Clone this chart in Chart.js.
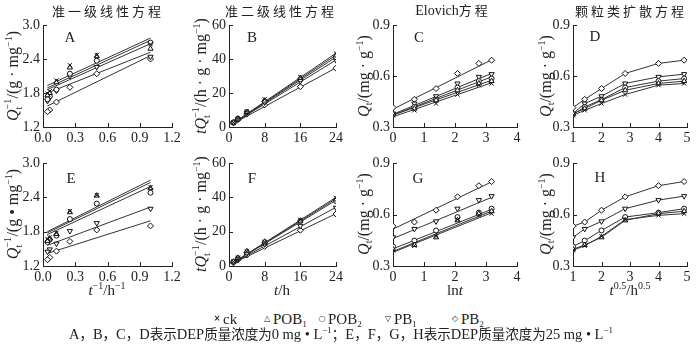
<!DOCTYPE html>
<html>
<head>
<meta charset="utf-8">
<script src="https://cdn.jsdelivr.net/npm/chart.js"></script>
<style>
body { margin: 0; background: #fff; }
#wrap { position: relative; width: 700px; height: 344px; overflow: hidden; font-family: "Liberation Serif", serif; color: #222; }
#wrap canvas { position: absolute; }
.txt { position: absolute; white-space: nowrap; line-height: 1; transform: translate(-50%, -50%); }
.title { font-family: "Noto Sans CJK SC", sans-serif; font-size: 13px; }
.title .cj { letter-spacing: 3px; }
.ytitle { font-size: 16px; transform: translate(-50%, -50%) rotate(-90deg); }
.xtitle { font-size: 15px; }
.letter { font-size: 15px; }
.sp { font-size: 10px; position: relative; top: -6px; }
.sb { font-size: 10px; position: relative; top: 3px; }
.st { display: inline-block; position: relative; width: 11px; height: 10px; font-size: 10px; }
.st .u { position: absolute; left: 0; top: -5px; }
.st .d { position: absolute; left: 0; top: 6px; }
.leg { font-size: 15px; transform: translate(0, -50%); }
.leg .sb { font-size: 9px; }
.mk { font-family: "DejaVu Sans", sans-serif; font-size: 8px; font-weight: bold; transform: translate(-50%, -50%); }
.cap { font-size: 14.5px; }
.cap .sp { font-size: 9px; }
.cap .cj { font-family: "Noto Sans CJK SC", sans-serif; font-size: 13.5px; }
</style>
</head>
<body>
<div id="wrap"></div>
<script>
// x values (h, 1/h, ln h, h^0.5) for t = 1, 2, 4, 8, 16, 24
const tInv = [1, 0.5, 0.25, 0.125, 0.0625, 0.0417];
const tHours = [1, 2, 4, 8, 16, 24];
const lnT = [0, 0.69, 1.39, 2.08, 2.77, 3.18];
const tSqrt = [1, 1.41, 2, 2.83, 4, 4.9];

const seriesNames = ['ck', 'POB1', 'POB2', 'PB1', 'PB2'];

// DEP 0 mg/L
const invQ0 = [
  [2.66, 2.47, 2.29, 2.02, 1.83, 1.79],
  [2.58, 2.45, 2.25, 1.99, 1.80, 1.76],
  [2.69, 2.37, 2.14, 1.86, 1.74, 1.69],
  [2.44, 2.26, 2.10, 1.84, 1.72, 1.66],
  [2.40, 2.14, 1.90, 1.64, 1.50, 1.47]
];
const invFit0 = [[1.93, 2.77], [1.89, 2.73], [1.86, 2.67], [1.80, 2.52], [1.57, 2.46]];

const tq0 = [
  [2.7, 5.0, 9.1, 16.3, 29.3, 43.2],
  [2.6, 4.9, 8.8, 15.5, 28.8, 42.1],
  [2.7, 4.8, 8.7, 15.0, 28.1, 41.0],
  [2.6, 4.6, 8.3, 14.4, 26.9, 39.3],
  [2.4, 4.3, 7.6, 13.0, 23.7, 34.6]
];
const tqFit0 = [[2.4, 43.4], [2.3, 42.3], [2.3, 41.1], [2.2, 39.4], [2.1, 34.8]];

const q0 = [
  [0.369, 0.398, 0.438, 0.491, 0.546, 0.556],
  [0.379, 0.408, 0.457, 0.516, 0.556, 0.570],
  [0.373, 0.418, 0.461, 0.532, 0.570, 0.585],
  [0.379, 0.438, 0.481, 0.556, 0.595, 0.611],
  [0.414, 0.463, 0.526, 0.615, 0.674, 0.693]
];
const elFit0 = [[0.36, 0.56], [0.37, 0.575], [0.37, 0.595], [0.375, 0.615], [0.405, 0.695]];

// DEP 25 mg/L
const invQ25 = [
  [2.58, 2.44, 2.16, 1.78, 1.70, 1.67],
  [2.56, 2.43, 2.14, 1.76, 1.68, 1.64],
  [2.48, 2.29, 2.02, 1.73, 1.66, 1.62],
  [2.20, 1.95, 1.81, 1.59, 1.49, 1.45],
  [1.90, 1.83, 1.63, 1.46, 1.35, 1.31]
];
const invFit25 = [[1.80, 2.70], [1.78, 2.66], [1.75, 2.59], [1.56, 2.23], [1.42, 1.99]];

const tq25 = [
  [2.6, 4.8, 8.5, 14.0, 26.9, 39.7],
  [2.5, 4.7, 8.6, 14.1, 26.4, 38.8],
  [2.4, 4.5, 7.9, 13.7, 26.2, 37.9],
  [2.1, 3.9, 7.1, 12.6, 23.4, 33.9],
  [1.9, 3.6, 6.4, 11.4, 20.8, 30.3]
];
const tqFit25 = [[2.0, 40.0], [2.0, 39.2], [1.9, 38.3], [1.8, 34.2], [1.7, 30.5]];

const q25 = [
  [0.392, 0.418, 0.473, 0.570, 0.595, 0.605],
  [0.398, 0.422, 0.467, 0.566, 0.605, 0.619],
  [0.414, 0.448, 0.507, 0.585, 0.611, 0.634],
  [0.467, 0.516, 0.560, 0.634, 0.684, 0.707],
  [0.532, 0.556, 0.625, 0.703, 0.768, 0.792]
];
const elFit25 = [[0.38, 0.61], [0.385, 0.62], [0.40, 0.63], [0.46, 0.70], [0.515, 0.79]];

// fit line x range
const invFitX = [0.04, 1.0];
const tqFitX = [1, 24];
const elFitX = [0, 3.18];

// ticks
const invXTicks = [0, 0.3, 0.6, 0.9, 1.2];
const invYTicks = [1.2, 1.8, 2.4, 3.0];
const tqXTicks = [0, 8, 16, 24];
const tqYTicks = [0, 20, 40, 60];
const lnXTicks = [0, 1, 2, 3, 4];
const sqXTicks = [1, 2, 3, 4, 5];
const qYTicks = [0.3, 0.6, 0.9];

const markers = ['crossRot', 'triangle', 'circle', 'triangle', 'rectRot'];
const rotations = [0, 0, 0, 180, 0];
const radii = [3, 3, 2.5, 3, 3];

const wrap = document.getElementById('wrap');
const tickFont = { family: 'Liberation Serif', size: 14 };

const innerTicks = {
  id: 'innerTicks',
  afterDraw(chart) {
    const { ctx, chartArea: a, scales } = chart;
    ctx.save();
    ctx.strokeStyle = '#222';
    ctx.lineWidth = 1;
    scales.x.ticks.forEach(t => {
      const p = Math.round(scales.x.getPixelForValue(t.value)) + 0.5;
      ctx.beginPath(); ctx.moveTo(p, a.bottom); ctx.lineTo(p, a.bottom - 4); ctx.stroke();
    });
    scales.y.ticks.forEach(t => {
      const p = Math.round(scales.y.getPixelForValue(t.value)) + 0.5;
      ctx.beginPath(); ctx.moveTo(a.left, p); ctx.lineTo(a.left + 4, p); ctx.stroke();
    });
    ctx.restore();
  }
};

function panel(box, xVals, ys, xTicks, yTicks, xDig, yDig, fitX, fits) {
  const padL = 36, padT = 8, padR = 14, padB = 24;
  const cv = document.createElement('canvas');
  const w = box[2] - box[0] + padL + padR;
  const h = box[3] - box[1] + padT + padB;
  cv.width = w; cv.height = h;
  cv.style.left = (box[0] - padL) + 'px';
  cv.style.top = (box[1] - padT) + 'px';
  wrap.appendChild(cv);

  const datasets = [];
  ys.forEach((vals, i) => {
    datasets.push({
      label: seriesNames[i],
      data: xVals.map((x, k) => ({ x: x, y: vals[k] })),
      showLine: !fits,
      borderColor: '#333',
      borderWidth: 1,
      pointStyle: markers[i],
      rotation: rotations[i],
      pointRadius: radii[i],
      pointBorderColor: '#111',
      pointBackgroundColor: '#fff',
      pointBorderWidth: 1
    });
  });
  if (fits) {
    fits.forEach((f, i) => {
      datasets.push({
        label: seriesNames[i] + ' fit',
        data: fitX.map((x, k) => ({ x: x, y: f[k] })),
        showLine: true,
        pointRadius: 0,
        borderColor: '#333',
        borderWidth: 1
      });
    });
  }

  new Chart(cv, {
    type: 'scatter',
    data: { datasets },
    options: {
      responsive: false,
      animation: false,
      devicePixelRatio: 1,
      layout: { padding: { left: 0, top: padT, right: padR, bottom: 0 } },
      plugins: { legend: { display: false }, tooltip: { enabled: false } },
      scales: {
        x: {
          type: 'linear',
          min: xTicks[0], max: xTicks[xTicks.length - 1],
          grid: { display: false, drawTicks: false },
          border: { color: '#222', width: 1 },
          ticks: { font: tickFont, color: '#222', padding: 3, autoSkip: false, maxRotation: 0,
                   callback: v => v.toFixed(xDig) },
          afterBuildTicks: s => { s.ticks = xTicks.map(v => ({ value: v })); },
          afterFit: s => { s.height = padB; s.paddingLeft = 0; s.paddingRight = 0; }
        },
        y: {
          type: 'linear',
          min: yTicks[0], max: yTicks[yTicks.length - 1],
          grid: { display: false, drawTicks: false },
          border: { color: '#222', width: 1 },
          ticks: { font: tickFont, color: '#222', padding: 3, autoSkip: false,
                   callback: v => v.toFixed(yDig) },
          afterBuildTicks: s => { s.ticks = yTicks.map(v => ({ value: v })); },
          afterFit: s => { s.width = padL; s.paddingTop = 0; s.paddingBottom = 0; }
        }
      }
    },
    plugins: [innerTicks]
  });
}

panel([43, 25, 172, 127], tInv, invQ0, invXTicks, invYTicks, 1, 1, invFitX, invFit0);
panel([229, 25, 336, 127], tHours, tq0, tqXTicks, tqYTicks, 0, 0, tqFitX, tqFit0);
panel([393, 25, 517, 127], lnT, q0, lnXTicks, qYTicks, 0, 1, elFitX, elFit0);
panel([573, 25, 687, 127], tSqrt, q0, sqXTicks, qYTicks, 0, 1, null, null);
panel([43, 163, 172, 266], tInv, invQ25, invXTicks, invYTicks, 1, 1, invFitX, invFit25);
panel([229, 163, 336, 266], tHours, tq25, tqXTicks, tqYTicks, 0, 0, tqFitX, tqFit25);
panel([393, 163, 517, 266], lnT, q25, lnXTicks, qYTicks, 0, 1, elFitX, elFit25);
panel([573, 163, 687, 266], tSqrt, q25, sqXTicks, qYTicks, 0, 1, null, null);

function label(cls, x, y, html) {
  const d = document.createElement('div');
  d.className = 'txt ' + cls;
  d.style.left = x + 'px';
  d.style.top = y + 'px';
  d.innerHTML = html;
  wrap.appendChild(d);
}

// panel titles
label('title', 108, 10, '<span class="cj">准一级线性方程</span>');
label('title', 281, 10, '<span class="cj">准二级线性方程</span>');
label('title', 453, 10, '<span style="font-family:Liberation Serif;font-size:14px">Elovich</span><span class="cj">方程</span>');
label('title', 631, 10, '<span class="cj">颗粒类扩散方程</span>');

// panel letters
[['A', 70, 37], ['B', 252, 37], ['C', 419, 37], ['D', 595, 36],
 ['E', 71, 178], ['F', 252, 178], ['G', 418, 178], ['H', 600, 177]]
  .forEach(p => label('letter', p[1], p[2], p[0]));

// y axis titles
const qInvT = '<i>Q</i><span class="st"><span class="u">−1</span><span class="d">t</span></span>';
const yA = qInvT + '/(g · mg<span class="sp">−1</span>)';
const yE = qInvT + '/(g • mg<span class="sp">−1</span>)';
const yB = '<i>tQ</i><span class="st"><span class="u">−1</span><span class="d">t</span></span>/(h · g · mg<span class="sp">−1</span>)';
const yC = '<i>Q</i><span class="sb">t</span>/(mg · g<span class="sp">−1</span>)';
[[yA, 13, 76], [yB, 201, 76], [yC, 364, 76], [yC, 546, 76],
 [yE, 13, 214], [yB, 201, 214], [yC, 364, 214], [yC, 546, 214]]
  .forEach(p => label('ytitle', p[1], p[2], p[0]));

// x axis titles
label('xtitle', 107, 290, '<i>t</i><span class="sp">−1</span>/h<span class="sp">−1</span>');
label('xtitle', 282, 290, '<i>t</i>/h');
label('xtitle', 455, 290, 'ln<i>t</i>');
label('xtitle', 630, 290, '<i>t</i><span class="sp">0.5</span>/h<span class="sp">0.5</span>');

// legend
const legMarks = ['×', '△', '○', '▽', '◇'];
const legText = ['ck', 'POB<span class="sb">1</span>', 'POB<span class="sb">2</span>', 'PB<span class="sb">1</span>', 'PB<span class="sb">2</span>'];
const legX = [217, 267, 322, 388, 455];
legX.forEach((x, i) => {
  label('mk', x, 319, legMarks[i]);
  label('leg', x + 6, 319, legText[i]);
});

// caption
label('cap', 341, 334,
  'A<span class="cj">，</span>B<span class="cj">，</span>C<span class="cj">，</span>D<span class="cj">表示</span>DEP<span class="cj">质量浓度为</span>0 mg • L<span class="sp">−1</span><span class="cj">；</span>' +
  'E<span class="cj">，</span>F<span class="cj">，</span>G<span class="cj">，</span>H<span class="cj">表示</span>DEP<span class="cj">质量浓度为</span>25 mg • L<span class="sp">−1</span>');
</script>
</body>
</html>
